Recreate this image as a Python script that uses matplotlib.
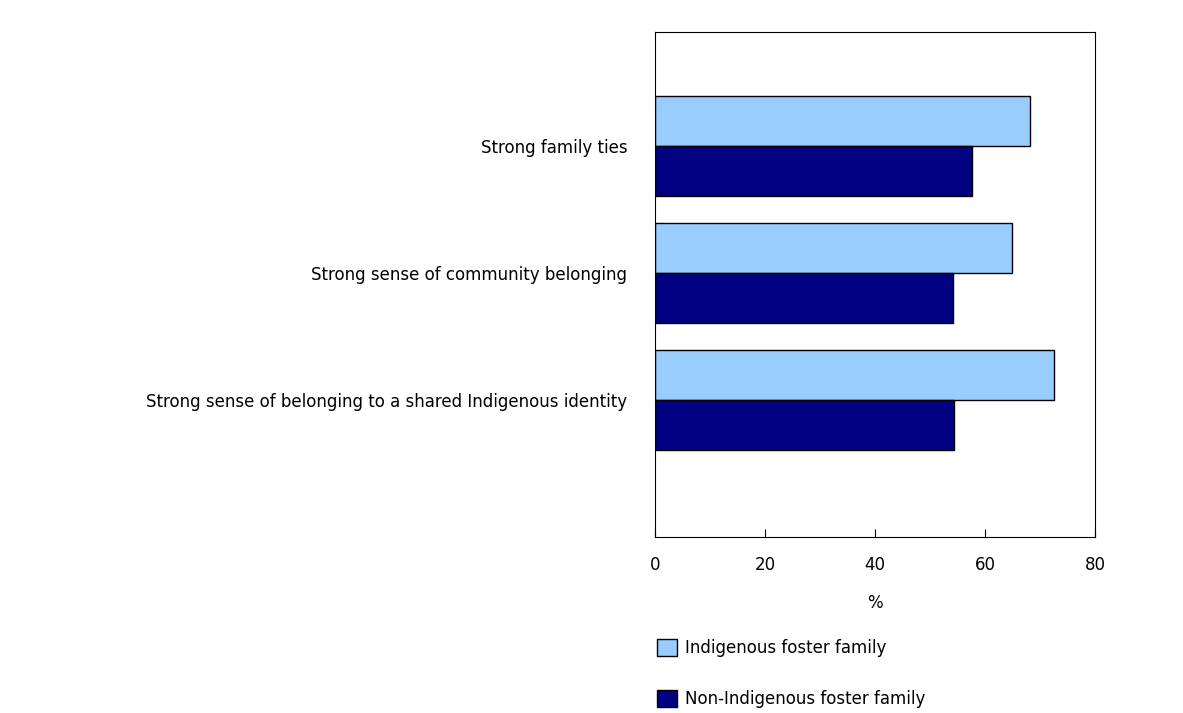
import matplotlib.pyplot as plt
import numpy as np
from matplotlib.patches import Patch

plt.rcParams['font.family'] = ['DejaVu Sans']

categories = ["Strong family ties", "Strong sense of community belonging",
              "Strong sense of belonging to a shared Indigenous identity"]
indigenous = [68.2, 64.9, 72.5]
non_indigenous = [57.6, 54.2, 54.4]
series_names = ["Indigenous foster family", "Non-Indigenous foster family"]
colors = ["#99ccff", "#000080"]

fig = plt.figure(figsize=(11.83, 7.13), dpi=100)
ax = fig.add_axes([655/1183, 176/713, 440/1183, 505/713])

y = np.arange(len(categories))
h = 50/127
ax.barh(y - h/2, indigenous, height=h, color=colors[0], edgecolor="black", linewidth=1)
ax.barh(y + h/2, non_indigenous, height=h, color=colors[1], edgecolor="black", linewidth=1)

ax.set_ylim(3.079, -0.898)
ax.set_xlim(0, 80)
ax.set_xticks([0, 20, 40, 60, 80])
ax.set_yticks(y)
ax.set_yticklabels(categories, fontsize=12)
ax.tick_params(axis="y", length=0, pad=20)
ax.tick_params(axis="x", labelsize=12, direction="in", length=6, pad=14)
ax.set_xlabel("%", fontsize=12, labelpad=14)

handles = [Patch(facecolor=c, edgecolor="black", label=n) for c, n in zip(colors, series_names)]
fig.legend(handles=handles, loc="upper left", bbox_to_anchor=(650/1183, 1 - 632/713),
           frameon=False, fontsize=12, labelspacing=2.0, handlelength=1.2,
           handleheight=1.2, handletextpad=0.5, borderaxespad=0)

fig.savefig("out.png", dpi=100)
